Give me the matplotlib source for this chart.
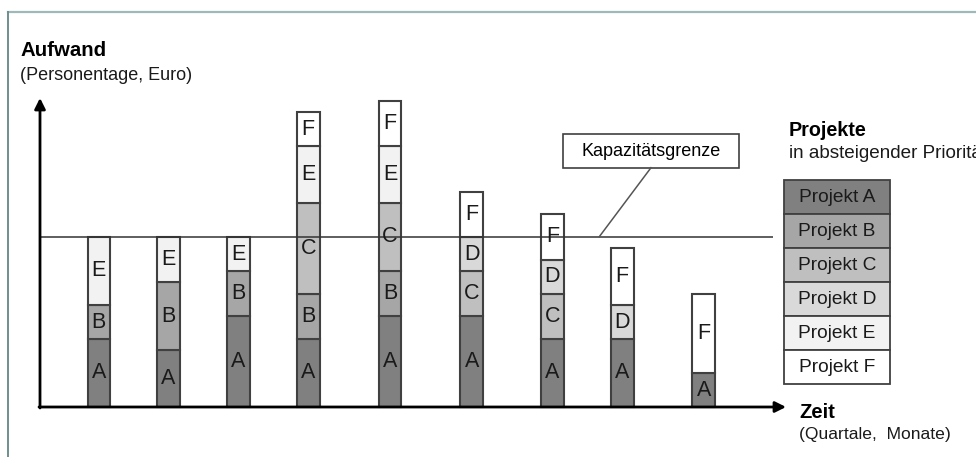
import matplotlib
matplotlib.use('Agg')
import matplotlib.pyplot as plt
from matplotlib.patches import Rectangle
import numpy as np

plt.rcParams['font.family'] = ['Liberation Sans', 'DejaVu Sans']

# Aufwand je Zeitabschnitt, gestapelt nach Projekt (A unten ... F oben)
projects = ['A', 'B', 'C', 'D', 'E', 'F']
proj_a = [6, 5, 8, 6, 8, 8, 6, 6, 3]
proj_b = [3, 6, 4, 4, 4, 0, 0, 0, 0]
proj_c = [0, 0, 0, 8, 6, 4, 4, 0, 0]
proj_d = [0, 0, 0, 0, 0, 3, 3, 3, 0]
proj_e = [6, 4, 3, 5, 5, 0, 0, 0, 0]
proj_f = [0, 0, 0, 3, 4, 4, 4, 5, 7]
capacity = 15
legend_labels = ['Projekt A', 'Projekt B', 'Projekt C', 'Projekt D', 'Projekt E', 'Projekt F']

colors = ['#808080', '#a6a6a6', '#bfbfbf', '#d9d9d9', '#f2f2f2', '#ffffff']
edge = '#404040'

# Layout (Pixel)
W, H = 976, 457
base_px = 407
axis_x = 40
unit_px = 170 / capacity
bar_x = [98.8, 168.3, 238.5, 308.3, 390, 471.7, 552.5, 622.3, 703.7]
bar_w = 22.5

fig = plt.figure(figsize=(W / 100, H / 100), dpi=100)
ax = fig.add_axes([0, 0, 1, 1])
ax.set_xlim(0, W)
ax.set_ylim(-(H - base_px) / unit_px, base_px / unit_px)
ax.axis('off')

# overlay in Pixelkoordinaten fuer Beschriftungen
ov = fig.add_axes([0, 0, 1, 1])
ov.set_xlim(0, W)
ov.set_ylim(H, 0)
ov.axis('off')
ov.patch.set_alpha(0)

series = [proj_a, proj_b, proj_c, proj_d, proj_e, proj_f]
bottom = np.zeros(len(bar_x))
for name, vals, col in zip(projects, series, colors):
    vals = np.array(vals, dtype=float)
    mask = vals > 0
    ax.bar(np.array(bar_x)[mask], vals[mask], width=bar_w, bottom=bottom[mask],
           color=col, edgecolor=edge, linewidth=1.5, zorder=2)
    for x, b, v in zip(np.array(bar_x)[mask], bottom[mask], vals[mask]):
        ax.text(x, b + v / 2, name, ha='center', va='center', fontsize=15.5,
                color='#1a1a1a', zorder=4)
    bottom += vals

# Kapazitaetsgrenze
ax.hlines(capacity, axis_x, 773, color='#333333', linewidth=1.1, zorder=3)

# Achsen mit Pfeilen
ov.annotate('', xy=(axis_x, 98), xytext=(axis_x, base_px + 1),
            arrowprops=dict(arrowstyle='-|>', color='black', lw=2, mutation_scale=16,
                            shrinkA=0, shrinkB=0), zorder=5)
ov.annotate('', xy=(786, base_px), xytext=(axis_x - 1, base_px),
            arrowprops=dict(arrowstyle='-|>', color='black', lw=2, mutation_scale=16,
                            shrinkA=0, shrinkB=0), zorder=5)

# Rahmen oben / links
ov.plot([7.5, W], [11.5, 11.5], color='#9fb8b8', linewidth=1.6, zorder=1)
ov.plot([7.5, 7.5], [11.5, H], color='#6f8e8e', linewidth=1.4, zorder=1)

# Achsentitel
ov.text(20, 50, 'Aufwand', fontsize=14.7, fontweight='bold', ha='left', va='center')
ov.text(20, 75, '(Personentage, Euro)', fontsize=13, ha='left', va='center', color='#1a1a1a')
ov.text(799, 412, 'Zeit', fontsize=14.5, fontweight='bold', ha='left', va='center')
ov.text(799, 435, '(Quartale,  Monate)', fontsize=12.6, ha='left', va='center', color='#1a1a1a')

# Kapazitaetsgrenze Beschriftung
ov.add_patch(Rectangle((563.3, 134), 176, 33.7, facecolor='white', edgecolor=edge,
                       linewidth=1.2, zorder=3))
ov.text(651.3, 151, 'Kapazitätsgrenze', fontsize=13, ha='center', va='center', zorder=4)
ov.plot([651, 599.3], [167.7, 236.7], color='#555555', linewidth=1.1, zorder=3)

# Legende
ov.text(789, 131, 'Projekte', fontsize=14.2, fontweight='bold', ha='left', va='center')
ov.text(789, 153, 'in absteigender Priorität', fontsize=13.6, ha='left', va='center',
        color='#1a1a1a')
leg_x, leg_y, leg_w, row_h = 784.3, 180, 105.4, 34.05
for i, (lab, col) in enumerate(zip(legend_labels, colors)):
    y0 = leg_y + i * row_h
    ov.add_patch(Rectangle((leg_x, y0), leg_w, row_h, facecolor=col, edgecolor=edge,
                           linewidth=1.3, zorder=3))
    ov.text(leg_x + leg_w / 2, y0 + row_h / 2, lab, fontsize=13.8, ha='center',
            va='center', color='#1a1a1a', zorder=4)

fig.savefig('out.png', dpi=100)
